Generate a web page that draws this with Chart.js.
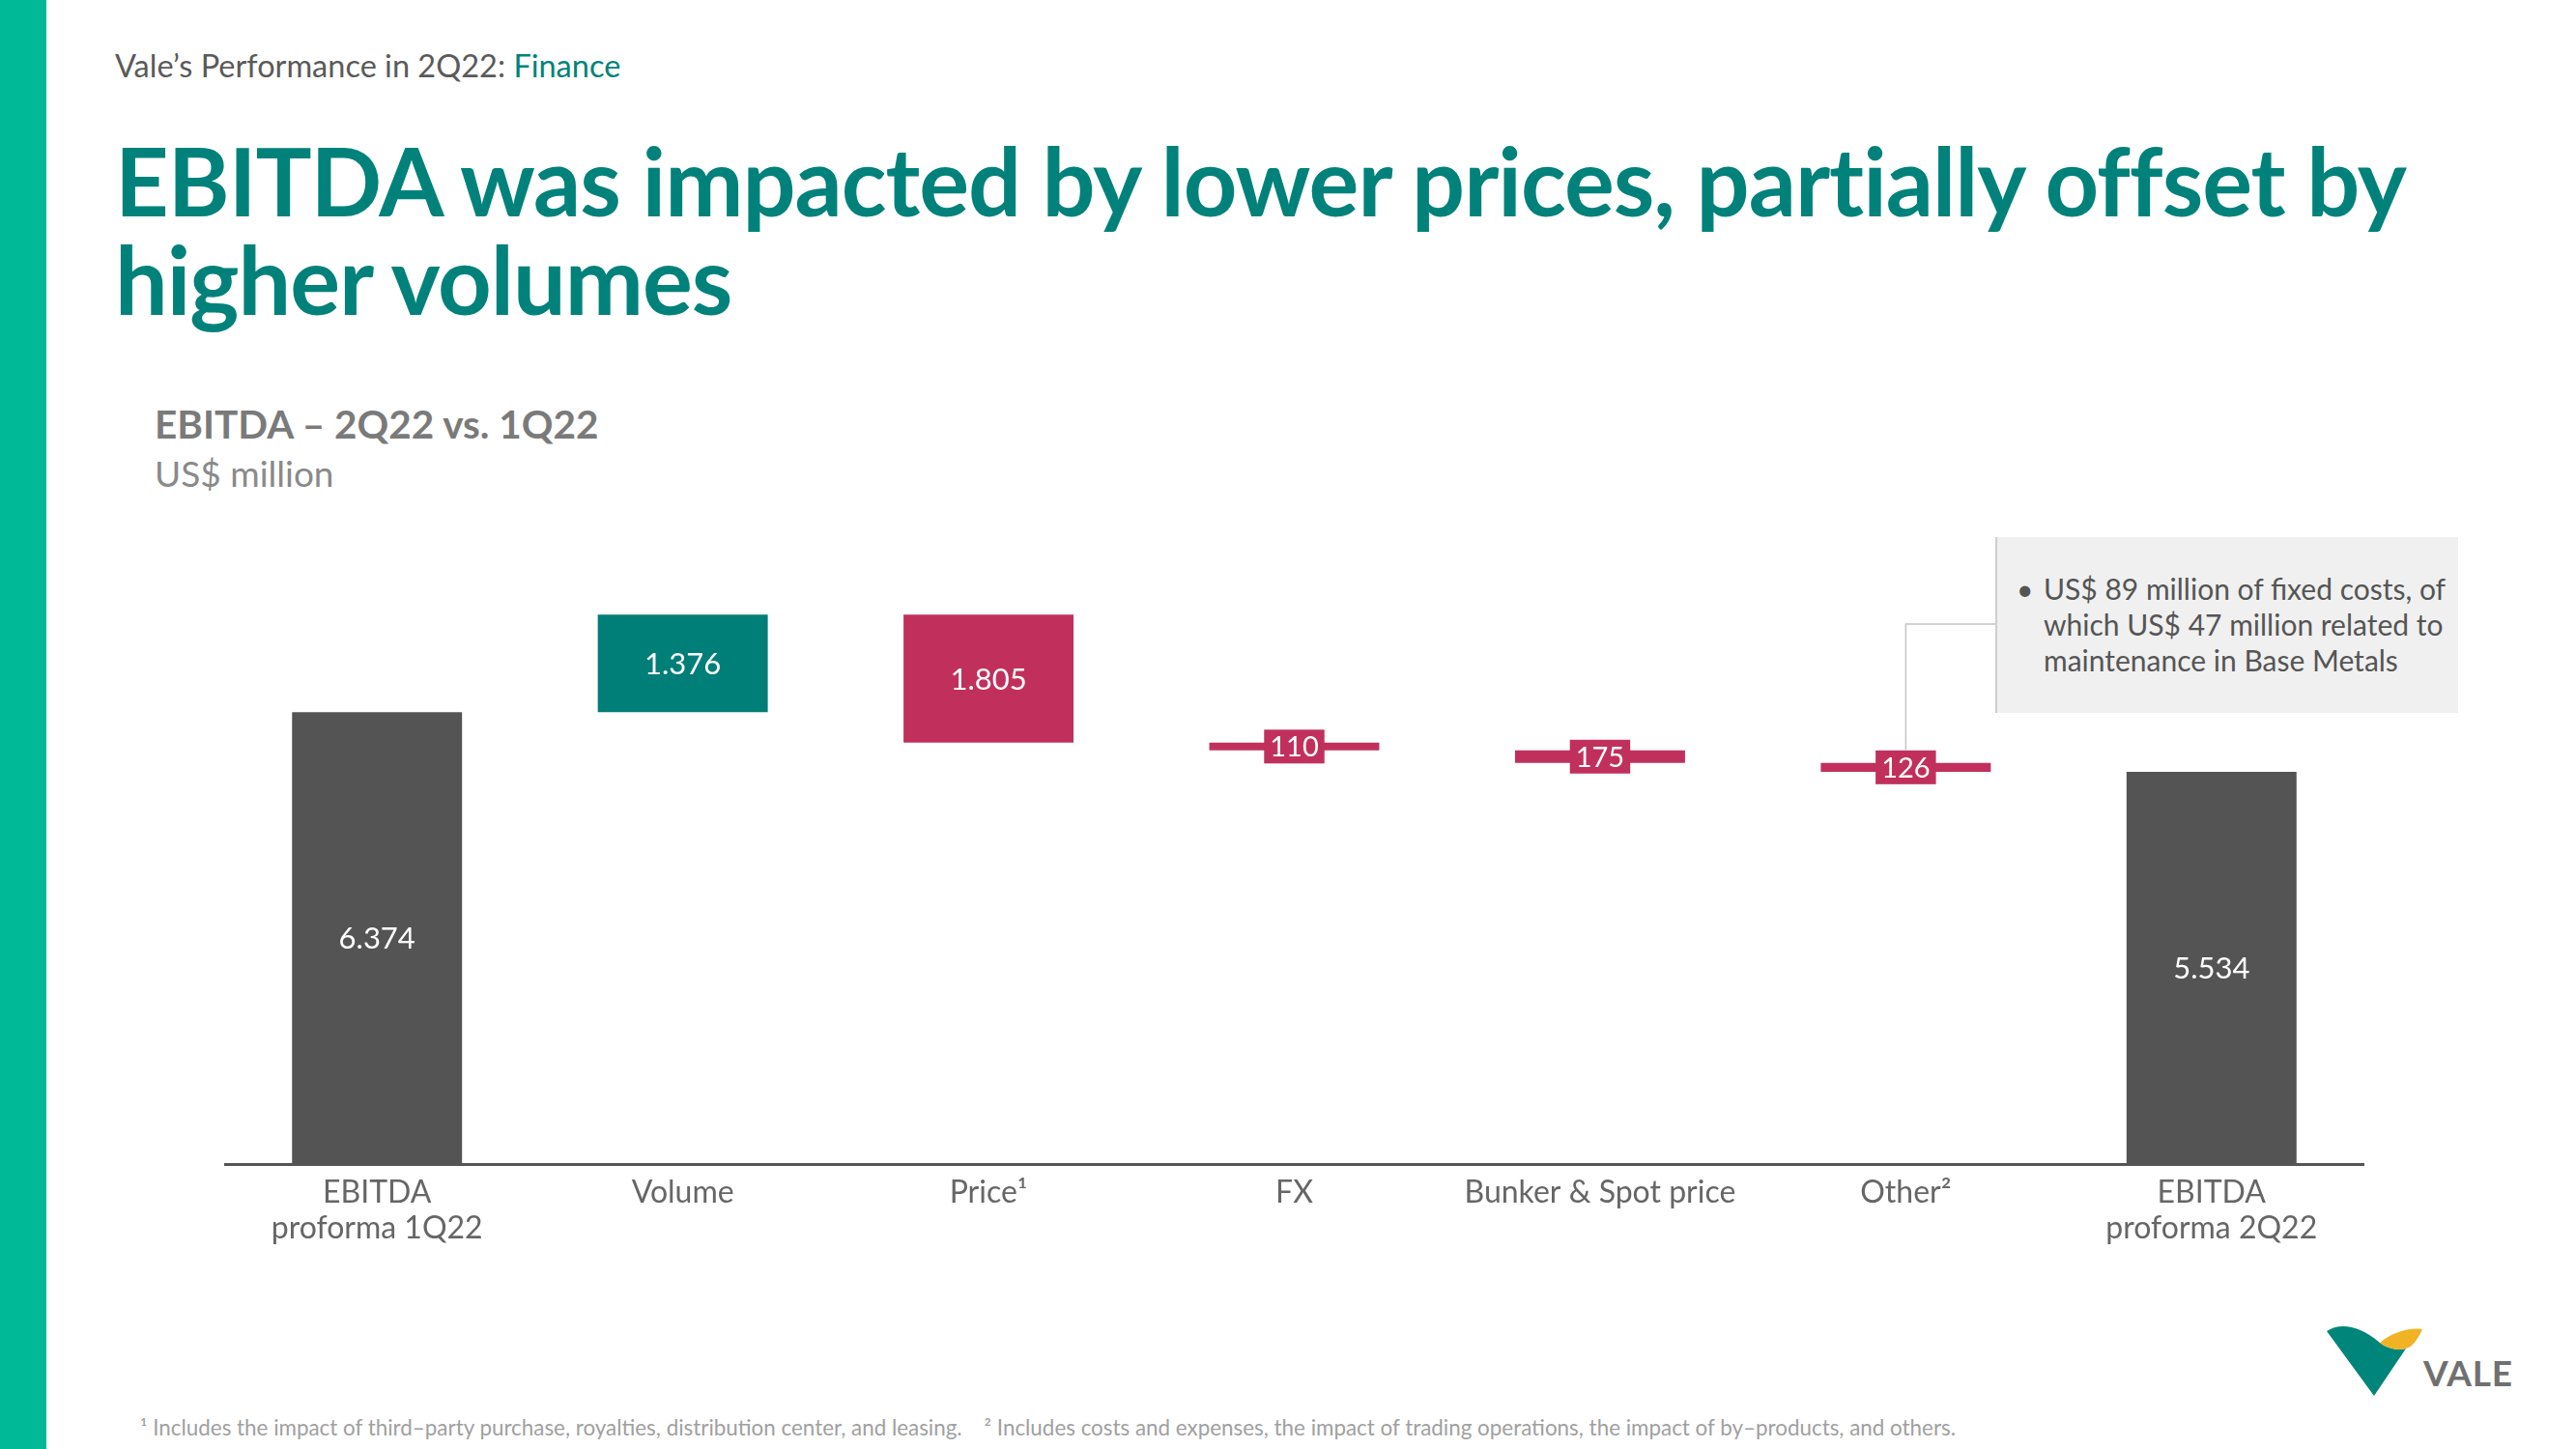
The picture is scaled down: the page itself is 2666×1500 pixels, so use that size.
<!DOCTYPE html>
<html>
<head>
<meta charset="utf-8">
<script src="https://cdn.jsdelivr.net/npm/chart.js@4.4.1/dist/chart.umd.min.js"></script>
<style>
  html, body { margin: 0; padding: 0; }
  body { width: 2666px; height: 1500px; position: relative; overflow: hidden; background: #fff; font-family: Lato, "Open Sans", sans-serif; }
  .abs { position: absolute; white-space: nowrap; }
  #stripe { left: 0; top: 0; width: 48px; height: 1500px; background: #00b997; }
  #kicker { left: 119px; top: 49px; font-size: 32.5px; line-height: 38px; color: #5a5a5a; }
  #kicker span { color: #00827b; }
  #title { left: 119px; top: 136px; font-size: 97px; line-height: 102px; font-weight: 700; color: #00827b; letter-spacing: -1px; }
  #ctitle { left: 160px; top: 416px; font-size: 40.5px; line-height: 46px; font-weight: 700; color: #7a7a7a; }
  #cunit { left: 160px; top: 468px; font-size: 37px; line-height: 44px; color: #8a8a8a; }
  #wrap { left: 232px; top: 618px; width: 2215px; height: 697px; }
  #note { left: 2065px; top: 556px; width: 479px; height: 182px; background: #f0f0f0; border-left: 2px solid #cfcfcf; box-sizing: border-box; }
  #note div { position: absolute; left: 48px; top: 35px; font-size: 30px; line-height: 37px; color: #555; }
  #note b { position: absolute; left: 20px; top: 35px; font-size: 30px; line-height: 37px; color: #555; font-weight: 400; }
  #foot { left: 145px; top: 1465px; font-size: 22.4px; line-height: 26px; color: #a0a0a0; }
  #logo { left: 2380px; top: 1340px; }
</style>
</head>
<body>
<div id="stripe" class="abs"></div>
<div id="kicker" class="abs">Vale’s Performance in 2Q22: <span>Finance</span></div>
<div id="title" class="abs">EBITDA was impacted by lower prices, partially offset by<br>higher volumes</div>
<div id="ctitle" class="abs">EBITDA – 2Q22 vs. 1Q22</div>
<div id="cunit" class="abs">US$ million</div>
<div id="wrap" class="abs"><canvas id="chart" width="2215" height="697"></canvas></div>
<div id="note" class="abs"><b>•</b><div>US$ 89 million of fixed costs, of<br>which US$ 47 million related to<br>maintenance in Base Metals</div></div>
<div id="foot" class="abs">¹ Includes the impact of third–party purchase, royalties, distribution center, and leasing. &nbsp;&nbsp;&nbsp;² Includes costs and expenses, the impact of trading operations, the impact of by–products, and others.</div>
<svg id="logo" class="abs" width="260" height="130" viewBox="0 0 260 130">
  <path d="M28,38 C40,30 60,30 83,50 C92,57 103,58 110,56 L77,105 Z" fill="#00857a"/>
  <path d="M83,50 C95,40 112,34 127,36 C122,48 115,55 110,56 C103,58 92,57 83,50 Z" fill="#f0b323"/>
  <text x="128" y="95" font-family="Lato" font-weight="700" font-size="37" fill="#707070" textLength="92" lengthAdjust="spacing">VALE</text>
</svg>
<script>
// EBITDA bridge 1Q22 -> 2Q22, US$ million
const categories = [
  ["EBITDA", "proforma 1Q22"],
  "Volume",
  "Price¹",
  "FX",
  "Bunker & Spot price",
  "Other²",
  ["EBITDA", "proforma 2Q22"]
];
const values = [6374, 1376, -1805, -110, -175, -126, 5534];
const kinds = ["total", "up", "down", "down", "down", "down", "total"];

const totalColor = "#545454";
const upColor = "#007e78";
const downColor = "#c1305c";

// floating bars from running sum
let running = 0;
const ranges = values.map((v, i) => {
  if (kinds[i] === "total") {
    running = v;
    return [0, v];
  }
  const start = running;
  running += v;
  return [start, running];
});
const colors = kinds.map((k) => (k === "total" ? totalColor : k === "up" ? upColor : downColor));

function fmt(v) {
  return String(Math.abs(v)).replace(/\B(?=(\d{3})+(?!\d))/g, ".");
}

const valueLabels = {
  id: "valueLabels",
  afterDatasetsDraw(chart) {
    const ctx = chart.ctx;
    const meta = chart.getDatasetMeta(0);
    meta.data.forEach((bar, i) => {
      const top = Math.min(bar.y, bar.base);
      const bottom = Math.max(bar.y, bar.base);
      const cy = (top + bottom) / 2;
      const text = fmt(values[i]);
      ctx.save();
      ctx.textAlign = "center";
      ctx.textBaseline = "middle";
      if (bottom - top < 30) {
        ctx.font = "29px Lato";
        const w = ctx.measureText(text).width + 12;
        const h = 35;
        ctx.fillStyle = downColor;
        ctx.fillRect(bar.x - w / 2, cy - h / 2, w, h);
        // callout line from "Other" to the note box
        if (i === 5) {
          ctx.strokeStyle = "#c4c4c4";
          ctx.lineWidth = 1.5;
          ctx.beginPath();
          ctx.moveTo(bar.x, cy - h / 2);
          ctx.lineTo(bar.x, 28);
          ctx.lineTo(1834, 28);
          ctx.stroke();
        }
      } else {
        ctx.font = "31px Lato";
      }
      ctx.fillStyle = "#ffffff";
      ctx.fillText(text, bar.x, cy + 1);
      ctx.restore();
    });
  }
};

const ctx = document.getElementById("chart").getContext("2d");
new Chart(ctx, {
  type: "bar",
  data: {
    labels: categories,
    datasets: [
      {
        data: ranges,
        backgroundColor: colors,
        borderWidth: 0,
        barPercentage: 0.556,
        categoryPercentage: 1
      }
    ]
  },
  options: {
    responsive: false,
    animation: false,
    devicePixelRatio: 1,
    layout: { padding: 0 },
    plugins: {
      legend: { display: false },
      tooltip: { enabled: false }
    },
    scales: {
      x: {
        grid: { display: false, drawTicks: false },
        border: { display: true, color: "#555555", width: 3 },
        ticks: {
          color: "#666666",
          padding: 12,
          font: { family: "Lato", size: 32, lineHeight: 1.13 }
        },
        afterFit: (scale) => {
          scale.height = 110;
        }
      },
      y: {
        display: false,
        min: 0,
        max: 8000
      }
    }
  },
  plugins: [valueLabels]
});
</script>
</body>
</html>
